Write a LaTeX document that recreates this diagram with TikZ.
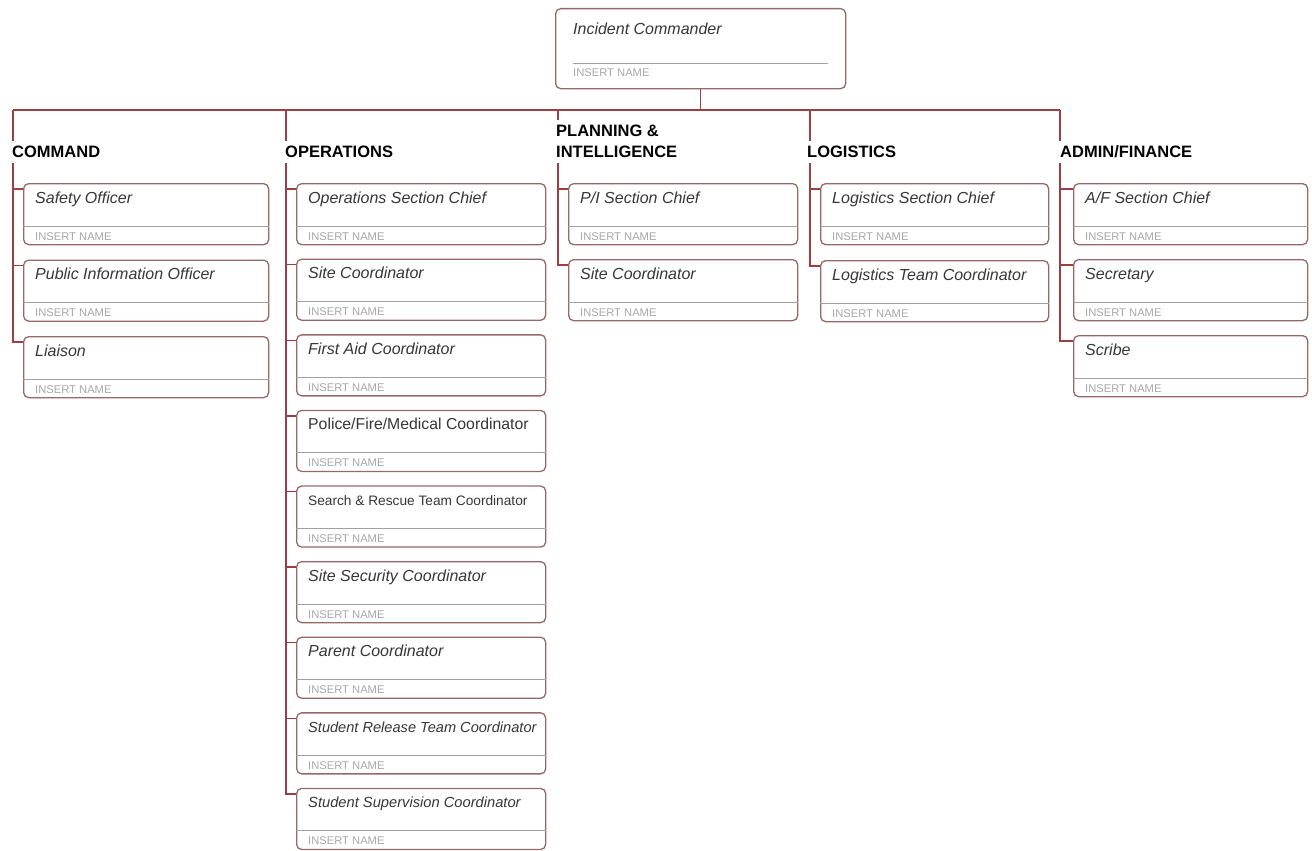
\documentclass[tikz,border=0pt]{standalone}
\usepackage{fontspec}
\setmainfont{Liberation Sans}
\definecolor{conncol}{RGB}{158,62,66}
\definecolor{boxcol}{RGB}{150,105,105}
\definecolor{divcol}{RGB}{165,160,160}
\definecolor{namecol}{RGB}{168,168,168}
\definecolor{titlecol}{RGB}{55,55,55}
\newcommand{\rolebox}[6][\fontsize{16}{19}\selectfont\itshape]{%
  \node[rolebox, minimum width=#5pt, anchor=north west] (#2) at (#3,#4) {};
  \draw[divline] ([yshift=-43pt]#2.north west) -- ([yshift=-43pt]#2.north east);
  \node[titletext, font={#1}, anchor=base west] (#2-t) at ([xshift=12pt,yshift=-20pt]#2.north west) {#6};
  \node[nametext, anchor=base west] (#2-n) at ([xshift=12pt,yshift=-57pt]#2.north west) {INSERT NAME};
  \coordinate (#2-s) at ([yshift=-6pt]#2.north west);
}
\begin{document}
\begin{tikzpicture}[x=1pt,y=-1pt,
  conn/.style={draw=conncol, line width=1.4pt},
  rolebox/.style={draw=boxcol, line width=1.3pt, rounded corners=5pt, minimum height=61pt, inner sep=0pt, fill=white},
  divline/.style={draw=divcol, line width=0.9pt},
  titletext/.style={text=titlecol, inner sep=0pt},
  nametext/.style={text=namecol, font=\fontsize{11.2}{13}\selectfont, inner sep=0pt},
  heading/.style={font=\fontsize{16.5}{21}\selectfont\bfseries, inner xsep=0pt, inner ysep=5pt, text height=12pt, text depth=0pt, anchor=south west},
  headingtwo/.style={font=\fontsize{16.5}{21}\selectfont\bfseries, align=left, inner xsep=0pt, inner ysep=5pt, anchor=south west}]
\useasboundingbox (0,0) rectangle (1312,851);

% top box
\node[rolebox, minimum width=290pt, minimum height=80pt, anchor=north west] (ic) at (555,8) {};
\draw[divline] ([xshift=18pt,yshift=-55pt]ic.north west) -- ([xshift=-18pt,yshift=-55pt]ic.north east);
\node[titletext, font=\fontsize{16}{19}\selectfont\itshape, anchor=base west] (ic-t) at ([xshift=18pt,yshift=-27pt]ic.north west) {Incident Commander};
\node[nametext, anchor=base west] (ic-n) at ([xshift=18pt,yshift=-69pt]ic.north west) {INSERT NAME};

% bus
\coordinate (bc) at (13,110);
\coordinate (bo) at (286,110);
\coordinate (bp) at (558,110);
\coordinate (bl) at (810,110);
\coordinate (ba) at (1060,110);
\draw[conn] (ic.south) -- (ic.south |- bc);
\draw[conn] (bc) -- (ba);

% headings
\node[heading] (hc) at (12,163) {COMMAND};
\node[heading] (ho) at (285,163) {OPERATIONS};
\node[headingtwo] (hp) at (556,163) {PLANNING \&\\INTELLIGENCE};
\node[heading] (hl) at (807,163) {LOGISTICS};
\node[heading] (ha) at (1060,163) {ADMIN/FINANCE};

% command
\rolebox{c1}{23}{183}{245}{Safety Officer}
\rolebox{c2}{23}{259.5}{245}{Public Information Officer}
\rolebox{c3}{23}{336}{245}{Liaison}

% operations
\rolebox{o1}{296}{183}{249}{Operations Section Chief}
\rolebox{o2}{296}{258.6}{249}{Site Coordinator}
\rolebox{o3}{296}{334.2}{249}{First Aid Coordinator}
\rolebox[\fontsize{15.8}{19}\selectfont]{o4}{296}{409.8}{249}{Police/Fire/Medical Coordinator}
\rolebox[\fontsize{13.7}{17}\selectfont]{o5}{296}{485.4}{249}{Search \& Rescue Team Coordinator}
\rolebox{o6}{296}{561}{249}{Site Security Coordinator}
\rolebox{o7}{296}{636.6}{249}{Parent Coordinator}
\rolebox[\fontsize{14.6}{18}\selectfont\itshape]{o8}{296}{712.2}{249}{Student Release Team Coordinator}
\rolebox[\fontsize{14.7}{18}\selectfont\itshape]{o9}{296}{787.8}{249}{Student Supervision Coordinator}

% planning
\rolebox{p1}{568}{183}{229}{P/I Section Chief}
\rolebox{p2}{568}{259}{229}{Site Coordinator}

% logistics
\rolebox{l1}{820}{183}{228}{Logistics Section Chief}
\rolebox{l2}{820}{260}{228}{Logistics Team Coordinator}

% admin
\rolebox{a1}{1073}{183}{234}{A/F Section Chief}
\rolebox{a2}{1073}{259}{234}{Secretary}
\rolebox{a3}{1073}{335}{234}{Scribe}

% column lines
\draw[conn] (bc) -- (hc.north -| bc);
\draw[conn] (hc.south -| bc) -- (c3-s -| bc) -- (c3-s);
\foreach \b in {c1,c2} \draw[conn] (\b-s -| bc) -- (\b-s);

\draw[conn] (bo) -- (ho.north -| bo);
\draw[conn] (ho.south -| bo) -- (o9-s -| bo) -- (o9-s);
\foreach \b in {o1,o2,o3,o4,o5,o6,o7,o8} \draw[conn] (\b-s -| bo) -- (\b-s);

\draw[conn] (bp) -- (hp.north -| bp);
\draw[conn] (hp.south -| bp) -- (p2-s -| bp) -- (p2-s);
\draw[conn] (p1-s -| bp) -- (p1-s);

\draw[conn] (bl) -- (hl.north -| bl);
\draw[conn] (hl.south -| bl) -- (l2-s -| bl) -- (l2-s);
\draw[conn] (l1-s -| bl) -- (l1-s);

\draw[conn] (ba) -- (ha.north -| ba);
\draw[conn] (ha.south -| ba) -- (a3-s -| ba) -- (a3-s);
\foreach \b in {a1,a2} \draw[conn] (\b-s -| ba) -- (\b-s);
\end{tikzpicture}
\end{document}
